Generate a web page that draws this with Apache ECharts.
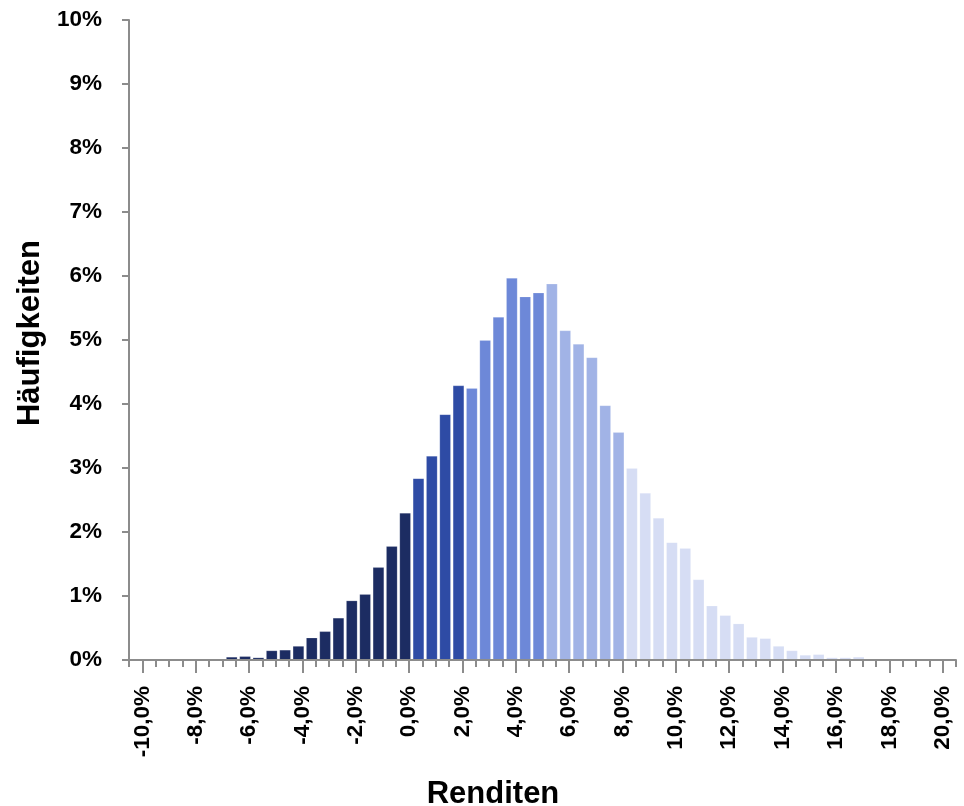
<!DOCTYPE html>
<html>
<head>
<meta charset="utf-8">
<script src="https://cdn.jsdelivr.net/npm/echarts@6/dist/echarts.min.js"></script>
<style>
  html, body { margin: 0; padding: 0; background: #fff; }
  #chart { width: 964px; height: 806px; }
</style>
</head>
<body>
<div id="chart"></div>
<script>
// Bins (return, %) - one bar per bin
const bins = [
  -10.0, -9.5, -9.0, -8.5, -8.0, -7.5, -7.0, -6.5, -6.0, -5.5,
  -5.0, -4.5, -4.0, -3.5, -3.0, -2.5, -2.0, -1.5, -1.0, -0.5,
  0.0, 0.5, 1.0, 1.5, 2.0, 2.5, 3.0, 3.5, 4.0, 4.5,
  5.0, 5.5, 6.0, 6.5, 7.0, 7.5, 8.0, 8.5, 9.0, 9.5,
  10.0, 10.5, 11.0, 11.5, 12.0, 12.5, 13.0, 13.5, 14.0, 14.5,
  15.0, 15.5, 16.0, 16.5, 17.0, 17.5, 18.0, 18.5, 19.0, 19.5,
  20.0, 20.5
];
// Frequencies (%)
const freq = [
  0, 0, 0.01, 0, 0, 0, 0.02, 0.05, 0.06, 0.04,
  0.15, 0.16, 0.22, 0.35, 0.45, 0.66, 0.93, 1.03, 1.45, 1.78,
  2.30, 2.84, 3.19, 3.84, 4.29, 4.25, 5.00, 5.36, 5.97, 5.68,
  5.74, 5.88, 5.15, 4.94, 4.73, 3.98, 3.56, 3.00, 2.61, 2.22,
  1.84, 1.75, 1.26, 0.85, 0.70, 0.57, 0.36, 0.34, 0.22, 0.15,
  0.08, 0.09, 0.04, 0.04, 0.05, 0, 0.01, 0, 0, 0,
  0, 0
];
// Colour groups: upper bin bounds and colours
const groupBounds = [0.0, 2.0, 5.0, 8.0];
const groupColors = ['#1C2C62', '#2E4BA5', '#6D88D8', '#A1B3E6', '#D6DDF4'];
// Axis tick labels
const xTickValues = [-10, -8, -6, -4, -2, 0, 2, 4, 6, 8, 10, 12, 14, 16, 18, 20];
const yTicks = [0, 1, 2, 3, 4, 5, 6, 7, 8, 9, 10];

const FONT = 'Liberation Sans, Arial, Helvetica, sans-serif';
const AXIS_GREY = '#8C8C8C';

function colorFor(b) {
  for (let i = 0; i < groupBounds.length; i++) {
    if (b <= groupBounds[i] + 1e-9) return groupColors[i];
  }
  return groupColors[groupColors.length - 1];
}

const barData = bins.map((b, i) => ({
  value: [b, freq[i]],
  itemStyle: { color: colorFor(b) }
}));
const spacerData = bins.map(b => [b, 0]);

const fmtX = v => v.toFixed(1).replace('.', ',') + '%';

const chart = echarts.init(document.getElementById('chart'), null, { renderer: 'canvas' });
chart.setOption({
  animation: false,
  backgroundColor: '#ffffff',
  grid: { left: 129, right: 8, top: 20, bottom: 146, containLabel: false },
  xAxis: [
    {
      type: 'value', min: -10.5, max: 20.5, interval: 0.5, z: 3,
      axisLine: { show: true, onZero: false, lineStyle: { color: AXIS_GREY, width: 2 } },
      axisTick: { show: true, length: 7, lineStyle: { color: AXIS_GREY, width: 2 } },
      axisLabel: { show: false },
      splitLine: { show: false }
    },
    {
      type: 'value', min: -10.5, max: 20.5, position: 'bottom', z: 3,
      axisLine: { show: false, onZero: false },
      axisTick: { show: true, length: 13, customValues: xTickValues, lineStyle: { color: AXIS_GREY, width: 2 } },
      axisLabel: {
        show: true, customValues: xTickValues, rotate: 90, margin: 26,
        formatter: fmtX, color: '#000', fontWeight: 'bold', fontSize: 22.5, fontFamily: FONT
      },
      splitLine: { show: false }
    }
  ],
  yAxis: {
    type: 'value', min: 0, max: 10, interval: 1, position: 'left', z: 3,
    axisLine: { show: true, onZero: false, lineStyle: { color: AXIS_GREY, width: 2 } },
    axisTick: { show: true, length: 7, lineStyle: { color: AXIS_GREY, width: 2 } },
    axisLabel: { formatter: '{value}%', color: '#000', fontWeight: 'bold', fontSize: 22.5, fontFamily: FONT, margin: 27 },
    splitLine: { show: false }
  },
  series: [
    {
      type: 'bar', xAxisIndex: 0, data: barData, barWidth: 11.5, barGap: '-31%',
      itemStyle: { borderColor: 'rgba(255,255,255,0.22)', borderWidth: 0.8 }
    },
    {
      type: 'bar', xAxisIndex: 0, data: spacerData, barWidth: 11.5, barGap: '-31%', silent: true,
      itemStyle: { color: 'transparent', borderWidth: 0 }
    }
  ],
  graphic: [
    {
      type: 'text', x: 30, y: 333, rotation: Math.PI / 2,
      style: { text: 'Häufigkeiten', fill: '#000', fontSize: 31, fontWeight: 'bold', fontFamily: FONT, align: 'center', verticalAlign: 'middle' }
    },
    {
      type: 'text', x: 493, y: 794,
      style: { text: 'Renditen', fill: '#000', fontSize: 31, fontWeight: 'bold', fontFamily: FONT, align: 'center', verticalAlign: 'middle' }
    }
  ]
});
</script>
</body>
</html>
